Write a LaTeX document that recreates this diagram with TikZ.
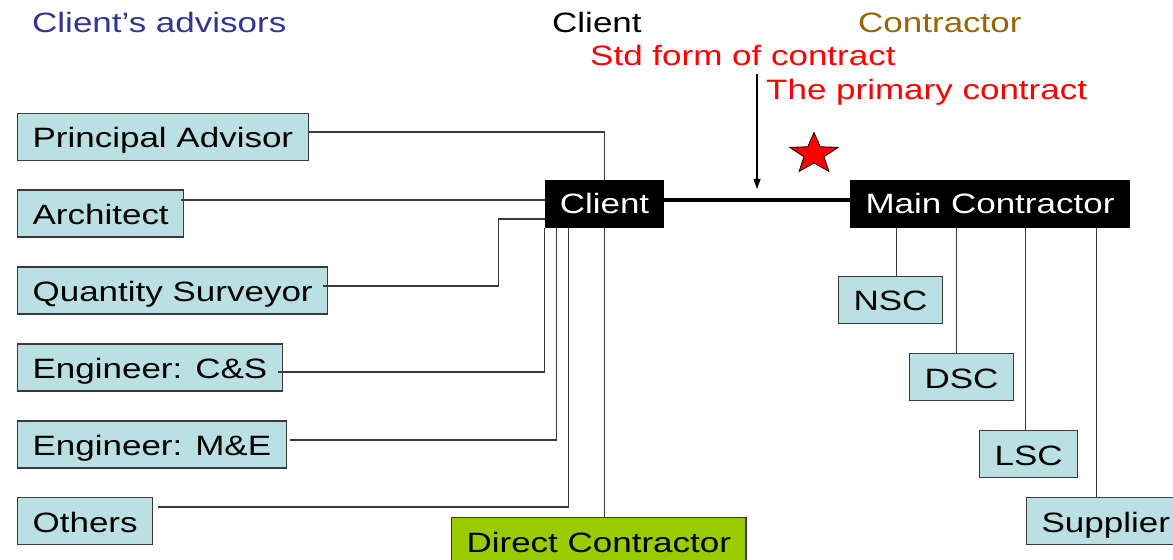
\documentclass[tikz,border=0pt]{standalone}
\usepackage{fontspec}
\setmainfont[FakeStretch=1.25]{Liberation Sans}
\usepackage{tikz}
\usetikzlibrary{calc,arrows.meta,shapes.geometric}
\definecolor{advfill}{HTML}{BAE0E3}
\definecolor{advink}{HTML}{333399}
\definecolor{conink}{HTML}{996600}
\definecolor{dcfill}{HTML}{99CC00}
\definecolor{edge}{HTML}{3A3A3A}

\begin{document}
\begin{tikzpicture}[x=1bp,y=-1bp,
  font=\fontsize{28.1}{34}\selectfont,
  head/.style={anchor=base west,inner sep=0pt},
  party/.style={fill=black,text=white,inner xsep=15bp,minimum height=48bp,text height=19bp,text depth=0pt},
  advbox/.style={draw=edge,line width=1.2bp,fill=advfill,inner xsep=15bp,minimum height=47bp,text height=22bp,text depth=0pt,anchor=west},
  link/.style={draw=edge,line width=1.1bp}]
  \useasboundingbox (0,0) rectangle (1173,560);
  \clip (0,0) rectangle (1173,560);

  \node[head,text=advink] (hdadv) at (32,33) {Client’s advisors};
  \node[head] (hdcl) at (552,33) {Client};
  \node[head,text=conink] (hdcon) at (858,33) {Contractor};
  \node[head,text=red] (std) at (590,66) {Std form of contract};
  \node[head,text=red] (prim) at (766,100) {The primary contract};

  \node[advbox] (pa) at (17,137) {Principal Advisor};
  \node[advbox] (ar) at (17,213.5) {Architect};
  \node[advbox] (qs) at (17,290.5) {Quantity Surveyor};
  \node[advbox] (ecs) at (17,367.5) {Engineer: C\&S};
  \node[advbox] (eme) at (17,444.5) {Engineer: M\&E};
  \node[advbox] (oth) at (17,521) {Others};

  \node[party,minimum width=119bp] (cl) at (604.5,204) {Client};
  \node[party,minimum width=280bp] (mc) at (990,204) {Main Contractor};
  \node[advbox,fill=dcfill,anchor=north west] (dc) at (451,517) {Direct Contractor};

  \node[advbox] (nsc) at (838,300) {NSC};
  \node[advbox] (dsc) at (909,377) {DSC};
  \node[advbox] (lsc) at (979,454) {LSC};
  \node[advbox] (sup) at (1026,521) {Supplier};

  \draw[link] ($(pa.east)+(0,-5)$) -| (cl.north);
  \draw[link] ($(ar.east)+(-3,-13.5)$) -- ($(ar.east -| cl.west)+(0,-13.5)$);
  \draw[link] ($(qs.east)+(-5,-4.5)$) -| ($(cl.west)+(-46,15)$) -- ($(cl.west)+(0,15)$);
  \draw[link] ($(ecs.east)+(-5,4.5)$) -| (cl.south west);
  \draw[link] ($(eme.east)+(3,-4.5)$) -| ($(cl.south west)+(12,0)$);
  \draw[link] ($(oth.east)+(5,-14)$) -| ($(cl.south west)+(24,0)$);
  \draw[link] (cl.south) -- (cl.south |- dc.north);

  \draw[line width=4bp] ($(cl.east)+(0,-4)$) -- ($(mc.west)+(0,-4)$);
  \foreach \sub/\dx in {nsc/47,dsc/107,lsc/176,sup/247}
    \draw[link] ($(mc.south west)+(\dx,0)$) coordinate (tap) -- (tap |- \sub.north);

  \coordinate (arrtop) at (757,74);
  \coordinate (arrtip) at (757,189);
  \draw[link,draw=black,-{Triangle[length=10bp,width=7bp]}] (arrtop) -- (arrtip);

  \node[star,star points=5,star point ratio=2.4,minimum size=43bp,inner sep=0pt,
        fill=red,draw=black,line width=0.8bp,xscale=1.18] (pin) at (814,154) {};
\end{tikzpicture}
\end{document}
